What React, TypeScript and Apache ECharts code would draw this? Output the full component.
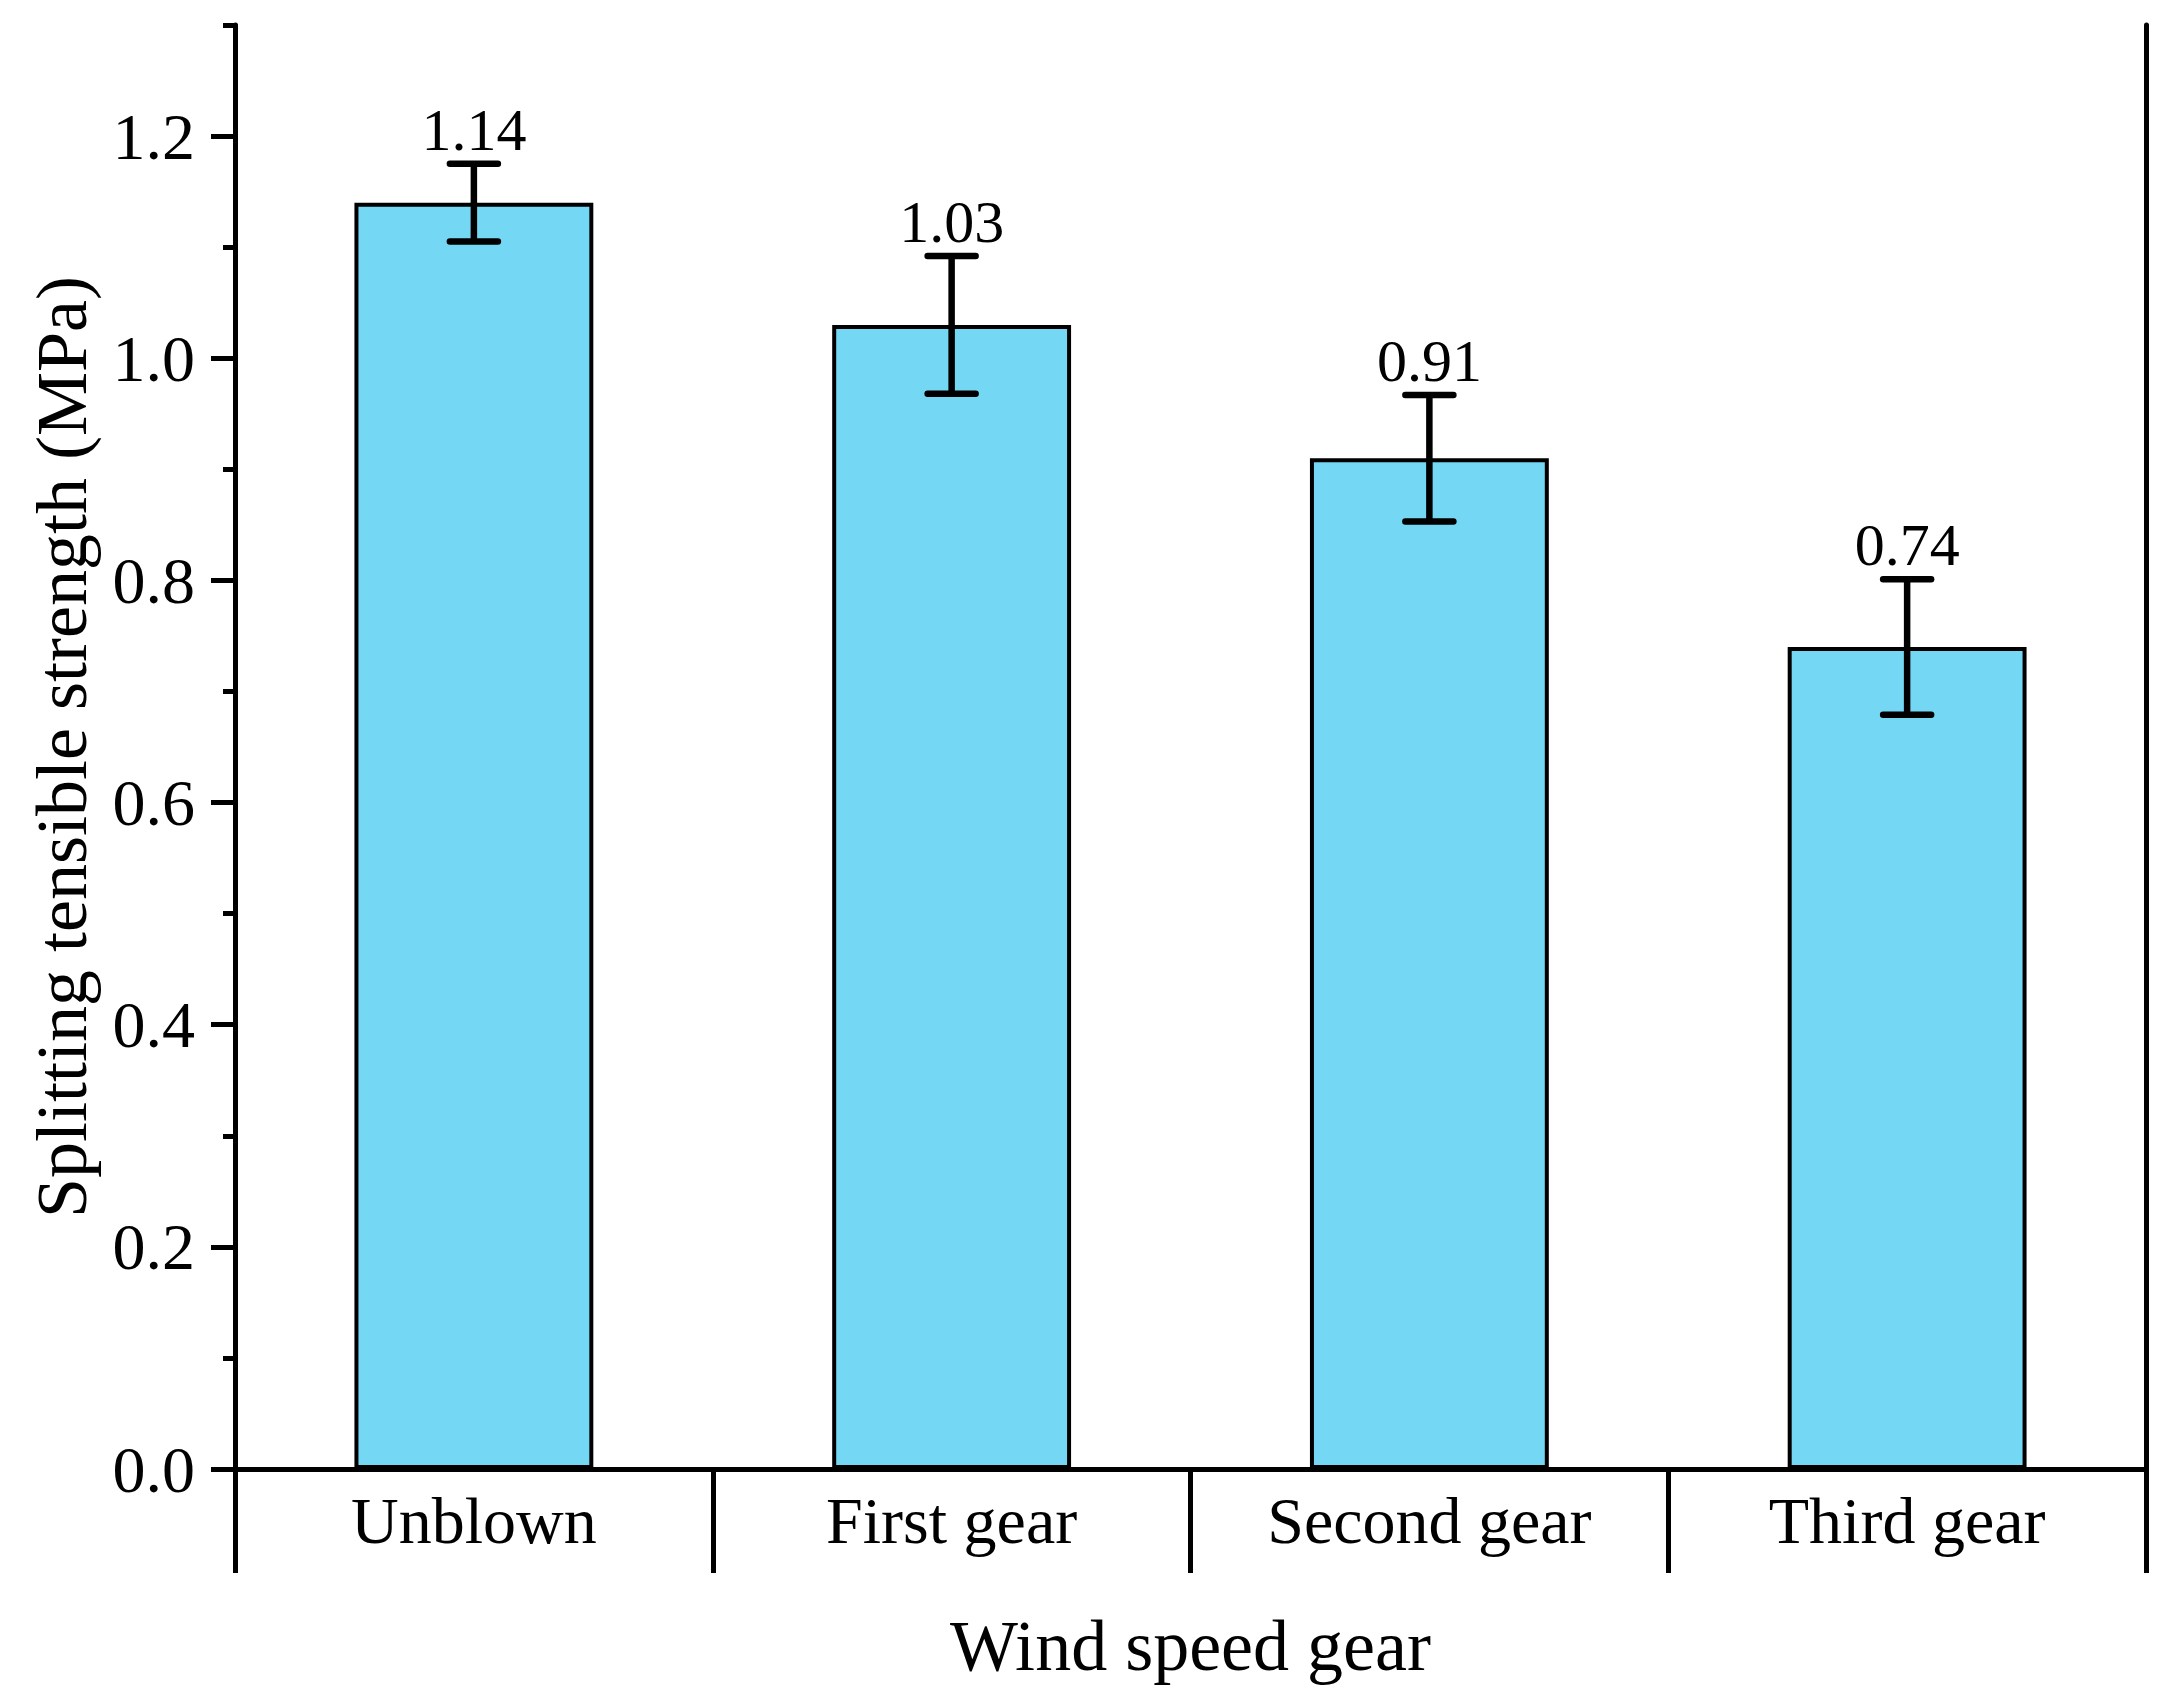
import React, { useEffect, useRef } from "react";
import * as echarts from "echarts";

const categories = ["Unblown", "First gear", "Second gear", "Third gear"];
const strengthValues = [1.14, 1.03, 0.91, 0.74];
const errorValues = [0.035, 0.062, 0.057, 0.061];
const valueLabels = ["1.14", "1.03", "0.91", "0.74"];
const majorTicks = [0, 0.2, 0.4, 0.6, 0.8, 1.0, 1.2];

export default function App() {
  const ref = useRef<HTMLDivElement>(null);
  useEffect(() => {
    document.body.style.margin = "0";
    const chart = echarts.init(ref.current!, null, { renderer: "svg" });
    const font = "Liberation Serif";
    const line = { color: "#000", width: 5 };
    chart.setOption({
      animation: false,
      backgroundColor: "#fff",
      grid: { left: 235, right: 21, top: 25, bottom: 233 },
      xAxis: [
        {
          type: "category",
          data: categories,
          position: "bottom",
          axisLine: { show: true, lineStyle: line },
          axisTick: { show: true, length: 104, inside: false, interval: 0, lineStyle: line },
          axisLabel: { fontFamily: font, fontSize: 66, color: "#000", margin: 18, interval: 0 },
          name: "Wind speed gear",
          nameLocation: "middle",
          nameGap: 141,
          nameTextStyle: { fontFamily: font, fontSize: 72, color: "#000" },
        },
        {
          type: "category",
          data: categories,
          position: "top",
          axisLine: { show: true, lineStyle: line },
          axisTick: { show: false },
          axisLabel: { show: false },
        },
      ],
      yAxis: [
        {
          type: "value",
          min: 0,
          max: 1.3,
          interval: 0.2,
          position: "left",
          axisLine: { show: true, lineStyle: line },
          axisTick: { show: true, length: 24, customValues: majorTicks, lineStyle: line },
          axisLabel: {
            customValues: majorTicks,
            formatter: (v: number) => v.toFixed(1),
            fontFamily: font,
            fontSize: 66,
            color: "#000",
            margin: 40,
          },
          splitLine: { show: false },
          name: "Splitting tensible strength (MPa)",
          nameLocation: "middle",
          nameGap: 137,
          nameTextStyle: { fontFamily: font, fontSize: 72, color: "#000" },
        },
        {
          type: "value",
          min: 0,
          max: 1.3,
          interval: 0.1,
          position: "left",
          axisLine: { show: false },
          axisTick: { show: true, length: 12, lineStyle: line },
          axisLabel: { show: false },
          splitLine: { show: false },
        },
        {
          type: "value",
          min: 0,
          max: 1.3,
          position: "right",
          axisLine: { show: true, lineStyle: line },
          axisTick: { show: false },
          axisLabel: { show: false },
          splitLine: { show: false },
        },
      ],
      series: [
        {
          type: "bar",
          data: strengthValues,
          xAxisIndex: 0,
          yAxisIndex: 0,
          barWidth: "50%",
          itemStyle: { color: "#74D7F4", borderColor: "#000", borderWidth: 4 },
          z: 2,
        },
        {
          type: "custom",
          xAxisIndex: 0,
          yAxisIndex: 0,
          z: 3,
          data: strengthValues.map((v, i) => [i, v, errorValues[i]]),
          renderItem: (params: any, api: any) => {
            const i = api.value(0);
            const v = api.value(1);
            const e = api.value(2);
            const top = api.coord([i, v + e]);
            const bot = api.coord([i, v - e]);
            const half = 24;
            const style = { stroke: "#000", lineWidth: 6.5, lineCap: "round" };
            return {
              type: "group",
              children: [
                { type: "line", shape: { x1: top[0], y1: top[1], x2: bot[0], y2: bot[1] }, style: { stroke: "#000", lineWidth: 6.5 } },
                { type: "line", shape: { x1: top[0] - half, y1: top[1], x2: top[0] + half, y2: top[1] }, style },
                { type: "line", shape: { x1: bot[0] - half, y1: bot[1], x2: bot[0] + half, y2: bot[1] }, style },
                {
                  type: "text",
                  x: top[0],
                  y: top[1] - 4,
                  style: {
                    text: valueLabels[params.dataIndex],
                    fontFamily: font,
                    fontSize: 60,
                    fill: "#000",
                    align: "center",
                    verticalAlign: "bottom",
                  },
                },
              ],
            };
          },
        },
      ],
    });
    return () => chart.dispose();
  }, []);
  return <div ref={ref} style={{ width: 2167, height: 1702 }} />;
}
